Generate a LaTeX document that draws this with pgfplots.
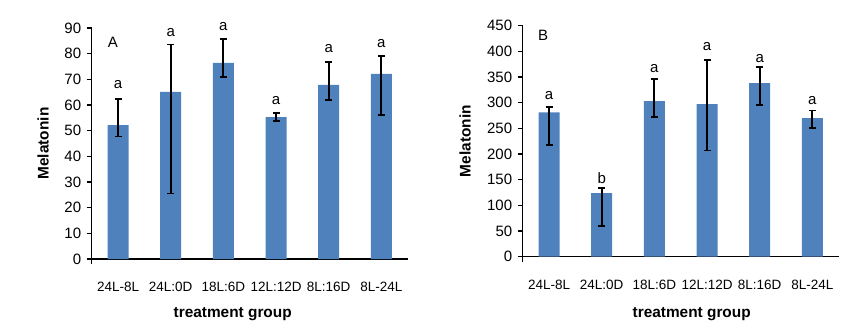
\documentclass[border=0pt]{standalone}
\usepackage{pgfplots}
\pgfplotsset{compat=1.18}
\usepackage{pgfplotstable}
\usepackage{fontspec}
\setmainfont{Liberation Sans}
\definecolor{barblue}{RGB}{79,129,189}

\pgfplotstableread{
x y ep em
0 52.2 10.1 4.5
1 65.1 18.5 39.6
2 76.4 9.3 5.5
3 55.3 1.7 1.4
4 67.8 9.1 5.7
5 72.1 7.0 16.0
}\dataA
\pgfplotstableread{
x y ep em
0 281 10.6 63
1 124 9.8 64.3
2 303 43 30.3
3 297.4 86.4 90.4
4 338.3 31.2 42.8
5 270 15 19.4
}\dataB

\tikzset{letter/.style={font=\fontsize{15bp}{18bp}\selectfont, anchor=center, inner sep=0pt}}

\pgfplotsset{
  mystyle/.style={
    scale only axis,
    width=316bp,
    height=231bp,
    anchor=south west,
    ybar, bar width=21bp,
    axis x line=bottom,
    axis y line=left,
    axis line style={-, line width=1.5bp, black},
    xmin=-0.5, xmax=5.5,
    ymin=0,
    xtick={0,...,5},
    tick align=outside,
    major tick length=5bp,
    every tick/.style={black, line width=1.5bp},
    x tick style={draw=none},
    extra x ticks={-0.5},
    extra x tick labels={},
    extra x tick style={x tick style={draw=black, line width=1.5bp}},
    /pgf/number format/assume math mode=true,
    yticklabel style={font=\fontsize{15bp}{18bp}\selectfont, xshift=-2bp},
    xticklabel style={font=\fontsize{13.5bp}{16bp}\selectfont, yshift=-15bp},
    clip=false,
    error bars/error bar style={line width=1.8bp, draw=black},
    error bars/error mark options={rotate=90, mark size=3.5bp, line width=1.8bp, draw=black},
  },
  mybars/.style={
    fill=barblue, draw=none, mark=none,
    error bars/.cd, y dir=both, y explicit,
  },
}

\begin{document}
\begin{tikzpicture}
\useasboundingbox (0,0) rectangle (850bp,336bp);
\begin{axis}[mystyle, at={(91.7bp,77bp)},
  ymax=90, ytick={0,10,...,90},
  xticklabels={24L-8L,\raisebox{-3bp}{24L:0D},\raisebox{-1bp}{18L:6D},12L:12D,8L:16D,\raisebox{-2bp}{8L-24L}},
  xlabel={\bfseries treatment group},
  xlabel style={at={([xshift=-17bp,yshift=-55bp]axis description cs:0.5,0)}, anchor=center, font=\fontsize{15.4bp}{18bp}\selectfont},
  ylabel={\bfseries Melatonin},
  ylabel style={at={([xshift=-48.7bp]axis description cs:0,0.5)}, anchor=center, font=\fontsize{15.4bp}{18bp}\selectfont},
]
\addplot[mybars] table[x=x, y=y, y error plus=ep, y error minus=em] {\dataA};
\node[letter] at (axis cs:-0.1,84.3) {A};
\node[letter] at (axis cs:0,67.8) {a};
\node[letter] at (axis cs:1,88.3) {a};
\node[letter] at (axis cs:2,90.4) {a};
\node[letter] at (axis cs:3,61.9) {a};
\node[letter] at (axis cs:4,82.1) {a};
\node[letter] at (axis cs:5,84.0) {a};
\end{axis}
\begin{axis}[mystyle, at={(522.7bp,79.3bp)},
  ymax=450, ytick={0,50,...,450},
  xticklabels={24L-8L,24L:0D,18L:6D,12L:12D,8L:16D,8L-24L},
  xlabel={\bfseries treatment group},
  xlabel style={at={([xshift=11bp,yshift=-57.3bp]axis description cs:0.5,0)}, anchor=center, font=\fontsize{15.4bp}{18bp}\selectfont},
  ylabel={\bfseries Melatonin},
  ylabel style={at={([xshift=-57.7bp]axis description cs:0,0.5)}, anchor=center, font=\fontsize{15.4bp}{18bp}\selectfont},
]
\addplot[mybars] table[x=x, y=y, y error plus=ep, y error minus=em] {\dataB};
\node[letter] at (axis cs:-0.11,431.8) {B};
\node[letter] at (axis cs:0,313) {a};
\node[letter] at (axis cs:1,154) {b};
\node[letter] at (axis cs:2,367) {a};
\node[letter] at (axis cs:3,409) {a};
\node[letter] at (axis cs:4,386) {a};
\node[letter] at (axis cs:5,305) {a};
\end{axis}
\end{tikzpicture}
\end{document}
